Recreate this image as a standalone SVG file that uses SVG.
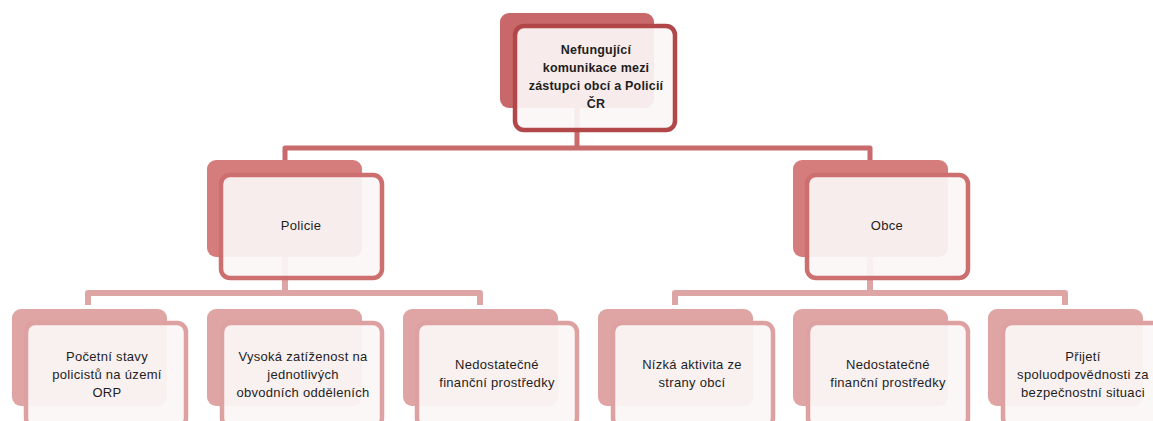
<svg xmlns="http://www.w3.org/2000/svg" width="1153" height="421" viewBox="0 0 1153 421">
<style>
.bg{fill:#ffffff}
.b1{fill:#c9686b}
.f1{fill:#fbf6f6;fill-opacity:0.92;stroke:#b2474a;stroke-width:4.5}
.b2{fill:#d57d7d}
.f2{fill:#fbf6f6;fill-opacity:0.92;stroke:#cd6e6f;stroke-width:4.5}
.b3{fill:#dfa4a4}
.f3{fill:#fbf6f6;fill-opacity:0.92;stroke:#dea1a1;stroke-width:4.5}
.c1{fill:none;stroke:#c96a6c;stroke-width:5;stroke-linejoin:round}
.c2{fill:none;stroke:#dea5a5;stroke-width:6;stroke-linejoin:round}
text{font-family:"Liberation Sans",Arial,sans-serif;font-size:13px;letter-spacing:0.3px;fill:#1e1e1e;text-anchor:middle}
.t1{font-weight:bold;font-size:12.5px;letter-spacing:0.2px}
</style>
<rect class="bg" width="1153" height="421"/>
<g id="connectors">
<path class="c1" d="M577,108 V148 M285,162 V148 H870 V162"/>
<path class="c2" d="M285,257 V293 M88,305 V293 H480 V305"/>
<path class="c2" d="M870,257 V293 M675,305 V293 H1065 V305"/>
</g>
<g id="n0">
<rect class="b1" x="500" y="13" width="154" height="95" rx="9"/>
<rect class="f1" x="515" y="26" width="160" height="104" rx="9"/>
<text class="t1" x="596" y="54">Nefungující</text>
<text class="t1" x="596" y="72">komunikace mezi</text>
<text class="t1" x="596" y="90">zástupci obcí a Policií</text>
<text class="t1" x="596" y="108">ČR</text>
</g>
<g id="n1">
<rect class="b2" x="207" y="160" width="155" height="97" rx="9"/>
<rect class="f2" x="221" y="175" width="161" height="103" rx="9"/>
<text x="301" y="230">Policie</text>
</g>
<g id="n2">
<rect class="b2" x="793" y="160" width="155" height="97" rx="9"/>
<rect class="f2" x="807" y="175" width="161" height="103" rx="9"/>
<text x="887" y="230">Obce</text>
</g>
<g id="l1">
<rect class="b3" x="12" y="309" width="155" height="97" rx="9"/>
<rect class="f3" x="26" y="323" width="160" height="104" rx="9"/>
<text x="107" y="361">Početní stavy</text>
<text x="107" y="379">policistů na území</text>
<text x="107" y="397">ORP</text>
</g>
<g id="l2">
<rect class="b3" x="207" y="309" width="155" height="97" rx="9"/>
<rect class="f3" x="222" y="323" width="160" height="104" rx="9"/>
<text x="303" y="361">Vysoká zatíženost na</text>
<text x="303" y="379">jednotlivých</text>
<text x="303" y="397">obvodních odděleních</text>
</g>
<g id="l3">
<rect class="b3" x="403" y="309" width="155" height="97" rx="9"/>
<rect class="f3" x="417" y="323" width="160" height="104" rx="9"/>
<text x="497" y="369">Nedostatečné</text>
<text x="497" y="387">finanční prostředky</text>
</g>
<g id="l4">
<rect class="b3" x="598" y="309" width="155" height="97" rx="9"/>
<rect class="f3" x="613" y="323" width="160" height="104" rx="9"/>
<text x="692" y="369">Nízká aktivita ze</text>
<text x="692" y="387">strany obcí</text>
</g>
<g id="l5">
<rect class="b3" x="793" y="309" width="155" height="97" rx="9"/>
<rect class="f3" x="808" y="323" width="160" height="104" rx="9"/>
<text x="888" y="369">Nedostatečné</text>
<text x="888" y="387">finanční prostředky</text>
</g>
<g id="l6">
<rect class="b3" x="988" y="309" width="155" height="97" rx="9"/>
<rect class="f3" x="1003" y="323" width="160" height="104" rx="9"/>
<text x="1083" y="361">Přijetí</text>
<text x="1083" y="379">spoluodpovědnosti za</text>
<text x="1083" y="397">bezpečnostní situaci</text>
</g>
</svg>
